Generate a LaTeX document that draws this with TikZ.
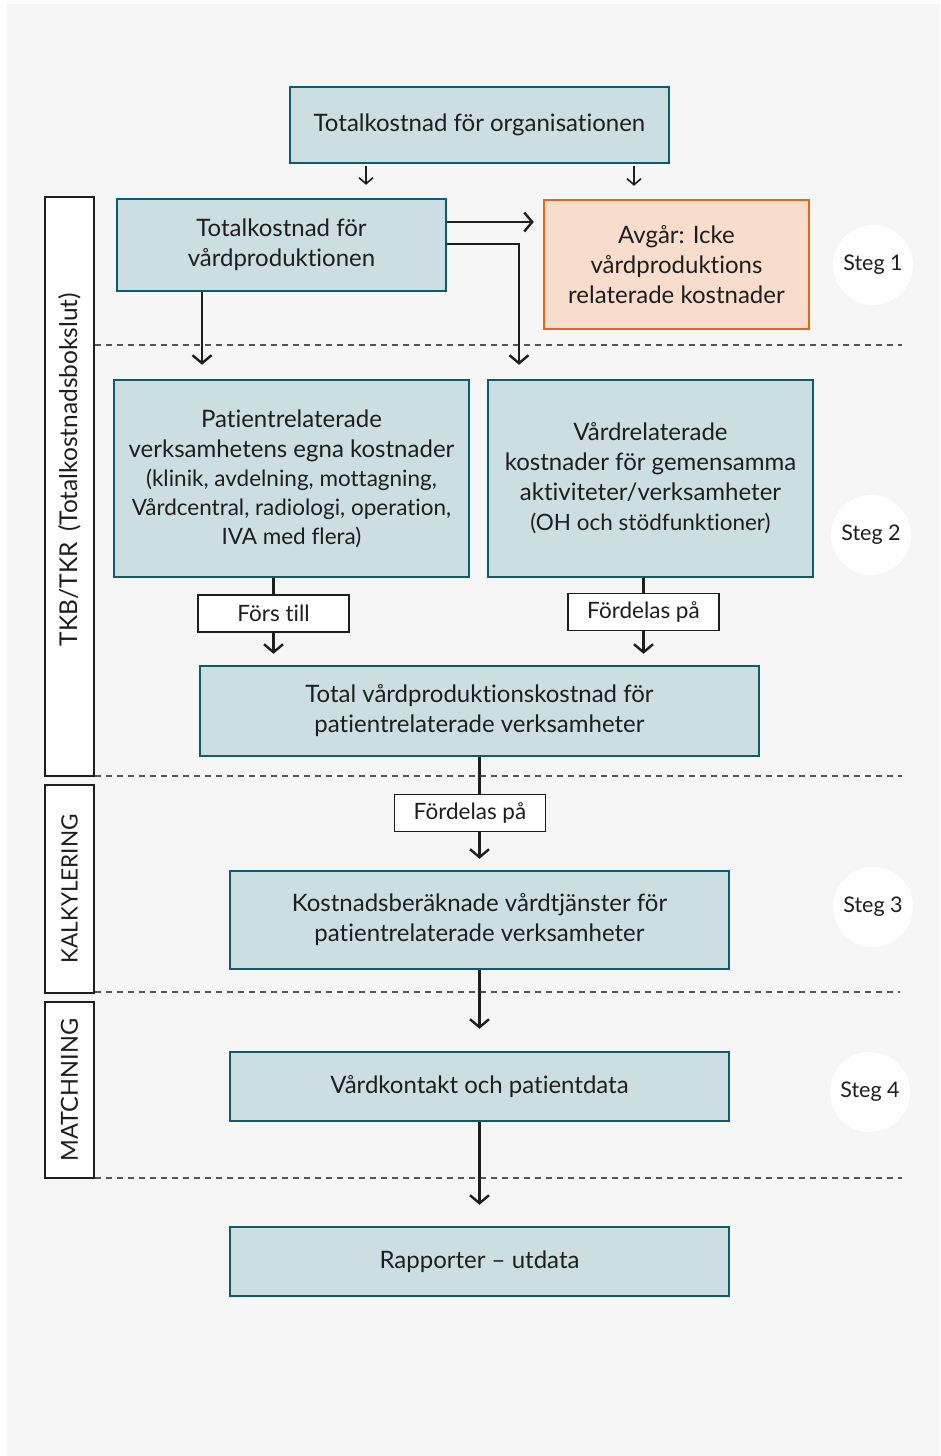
\documentclass[tikz,border=0pt]{standalone}
\usepackage{fontspec}
\setmainfont{Lato}[Ligatures={NoCommon}]
\usetikzlibrary{arrows.meta, positioning}
\definecolor{bg}{HTML}{F6F6F6}
\definecolor{boxfill}{HTML}{CDDEE2}
\definecolor{boxline}{HTML}{0D5C6B}
\definecolor{orfill}{HTML}{F8DDCC}
\definecolor{orline}{HTML}{E2661F}
\definecolor{ink}{HTML}{1E1E1E}
\definecolor{sepgray}{HTML}{555555}
\newcommand{\subtxt}{\fontsize{22.5}{29}\selectfont}

\begin{document}
\begin{tikzpicture}[
    x=1pt, y=-1pt,
    font=\fontsize{24}{30}\selectfont,
    box/.style={draw=boxline, fill=boxfill, line width=2.4pt, align=center, inner sep=0pt, text=ink},
    avgbox/.style={box, draw=orline, fill=orfill},
    side/.style={draw=ink, fill=white, line width=2.6pt, inner sep=0pt, rotate=90, minimum height=49pt, text=ink, font=\fontsize{23.5}{28}\selectfont},
    lab/.style={draw=ink, fill=white, line width=1.2pt, inner sep=0pt, minimum width=151pt, minimum height=37pt, text=ink, font=\fontsize{22.5}{28}\selectfont},
    stegnode/.style={circle, fill=white, inner sep=0pt, minimum size=80pt, text=ink, font=\fontsize{21.5}{26}\selectfont},
    thinarr/.style={-{Straight Barb[length=6pt, width=14pt, line width=1.6pt]}, line width=1.6pt, draw=ink},
    arr/.style={-{Straight Barb[length=8pt, width=19pt, line width=2.4pt]}, line width=2.4pt, draw=ink},
    link/.style={line width=2.4pt, draw=ink},
    sep/.style={draw=sepgray, line width=1.2pt, dash pattern=on 6pt off 5pt},
]
\useasboundingbox (0,0) rectangle (940,1456);
\fill[bg] (7,4) rectangle (940,1456);

% section separators
\draw[sep] (95,345) -- (902,345);
\draw[sep] (95,776) -- (902,776);
\draw[sep] (95,992) -- (900,992);
\draw[sep] (95,1178) -- (902,1178);

% left column
\node[side, minimum width=579pt, font=\fontsize{24.5}{28}\selectfont] (tkb) at (69.5,486.5) {\hspace*{34pt}TKB/TKR\, (Totalkostnadsbokslut)};
\node[side, minimum width=208pt, font=\fontsize{22.5}{28}\selectfont] (kalk) at (69.5,889) {KALKYLERING};
\node[side, minimum width=176pt] (match) at (69.5,1090) {MATCHNING};

% boxes
\node[box, minimum width=379pt, minimum height=76pt] (org) at (479.5,125) {Totalkostnad för organisationen};
\node[box, minimum width=329pt, minimum height=92pt] (vp) at (281.5,245) {Totalkostnad för\\vårdproduktionen};
\node[avgbox, minimum width=265pt, minimum height=129pt] (avg) at (676.5,264.5) {Avgår: Icke\\vårdproduktions\\relaterade kostnader};
\node[box, minimum width=355pt, minimum height=197pt] (pat) at (291.5,478.5) {Patientrelaterade\\verksamhetens egna kostnader\\[-1pt]{\subtxt(klinik, avdelning, mottagning,}\\[-1pt]{\subtxt Vårdcentral, radiologi, operation,}\\[-1pt]{\subtxt IVA med flera)}};
\node[box, minimum width=325pt, minimum height=197pt] (vrd) at (650.5,478.5) {Vårdrelaterade\\kostnader för gemensamma\\aktiviteter/verksamheter\\{\subtxt(OH och stödfunktioner)}};
\node[box, minimum width=559pt, minimum height=90pt] (tot) at (479.5,711) {Total vårdproduktionskostnad för\\patientrelaterade verksamheter};
\node[box, minimum width=499pt, minimum height=98pt] (kost) at (479.5,920) {Kostnadsberäknade vårdtjänster för\\patientrelaterade verksamheter};
\node[box, minimum width=499pt, minimum height=69pt] (vk) at (479.5,1086.5) {Vårdkontakt och patientdata};
\node[box, minimum width=499pt, minimum height=69pt] (rap) at (479.5,1261.5) {Rapporter – utdata};

% connector labels
\node[lab] (fors) at (273.5,613.5) {Förs till};
\node[lab] (ford1) at (643.5,612) {Fördelas på};
\node[lab] (ford2) at (470,813) {Fördelas på};

% steps
\node[stegnode] (s1) at (873,265) {Steg 1};
\node[stegnode] (s2) at (871,535) {Steg 2};
\node[stegnode] (s3) at (873,907) {Steg 3};
\node[stegnode] (s4) at (870,1092) {Steg 4};

% connectors
\draw[thinarr, shorten <=2pt, shorten >=13pt] ([xshift=-113.5pt]org.south) -- ([xshift=84.5pt]vp.north);
\draw[thinarr, shorten <=2pt, shorten >=13pt] ([xshift=154.5pt]org.south) -- ([xshift=-42.5pt]avg.north);
\draw[arr, shorten >=9pt] ([yshift=23pt]vp.east) -- ([yshift=42.5pt]avg.west);
\draw[arr, shorten >=14pt] ([yshift=1pt]vp.east) -| ([xshift=-131.5pt]vrd.north);
\draw[arr, shorten >=14pt] ([xshift=-79.5pt]vp.south) -- ([xshift=-89.5pt]pat.north);
\draw[link] (pat.south -| fors.north) -- (fors.north);
\draw[arr, shorten >=11pt] (fors.south) -- (tot.north -| fors.south);
\draw[link] (vrd.south -| ford1.north) -- (ford1.north);
\draw[arr, shorten >=11pt] (ford1.south) -- (tot.north -| ford1.south);
\draw[link] (tot.south) -- (ford2.north -| tot.south);
\draw[arr, shorten >=11pt] (ford2.south -| tot.south) -- (kost.north);
\draw[arr, shorten >=22pt] (kost.south) -- (vk.north);
\draw[arr, shorten >=21pt] (vk.south) -- (rap.north);
\end{tikzpicture}
\end{document}
